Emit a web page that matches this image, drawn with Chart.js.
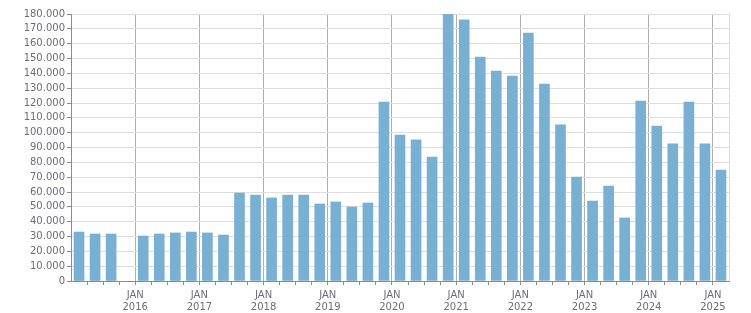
<!DOCTYPE html>
<html>
<head>
<meta charset="utf-8">
<script src="https://cdn.jsdelivr.net/npm/chart.js@4/dist/chart.umd.min.js"></script>
<style>
    html, body { margin: 0; padding: 0; background: #fff; }
    #wrap { width: 751px; height: 313px; }
</style>
</head>
<body>
<div id="wrap"><canvas id="quarterChart" width="751" height="313"></canvas></div>
<script>
// Quarterly series, Q1 2015 .. Q1 2025 (Q4 2015 has no bar)
const quarters = [
    '2015 Q1', '2015 Q2', '2015 Q3', '2015 Q4',
    '2016 Q1', '2016 Q2', '2016 Q3', '2016 Q4',
    '2017 Q1', '2017 Q2', '2017 Q3', '2017 Q4',
    '2018 Q1', '2018 Q2', '2018 Q3', '2018 Q4',
    '2019 Q1', '2019 Q2', '2019 Q3', '2019 Q4',
    '2020 Q1', '2020 Q2', '2020 Q3', '2020 Q4',
    '2021 Q1', '2021 Q2', '2021 Q3', '2021 Q4',
    '2022 Q1', '2022 Q2', '2022 Q3', '2022 Q4',
    '2023 Q1', '2023 Q2', '2023 Q3', '2023 Q4',
    '2024 Q1', '2024 Q2', '2024 Q3', '2024 Q4',
    '2025 Q1'
];
const values = [
    33000, 31700, 31700, null,
    30300, 31700, 32400, 33000,
    32400, 31000, 59300, 58000,
    56000, 58000, 58000, 51900,
    53300, 49900, 52600, 120700,
    98400, 95100, 83600, 181500,
    176000, 151000, 141600, 138200,
    167200, 132800, 105200, 70100,
    53900, 64000, 42500, 121300,
    104500, 92400, 120700, 92400,
    74800
];
const yearLabels = ['2016', '2017', '2018', '2019', '2020', '2021', '2022', '2023', '2024', '2025'];
const monthLabel = 'JAN';
const yMax = 180000;
const yStep = 10000;

const firstYear = 2015;
const textColor = '#6c6c7c';
const fontSpec = { family: '"DejaVu Sans", Verdana, sans-serif', size: 10 };

const points = values.map((v, i) => ({ x: i + 0.5, y: v }));

const yearLabelFor = (v) => {
    if (v <= 0 || v % 4 !== 0) return '';
    const yr = String(firstYear + v / 4);
    return yearLabels.includes(yr) ? [monthLabel, yr] : '';
};

const formatThousands = (v) => String(v).replace(/\B(?=(\d{3})+(?!\d))/g, '.');

new Chart(document.getElementById('quarterChart'), {
    type: 'bar',
    data: {
        datasets: [{
            label: 'Quarterly',
            data: points,
            backgroundColor: '#77b0d3',
            borderWidth: 0,
            barThickness: 10
        }]
    },
    options: {
        responsive: false,
        animation: false,
        layout: { padding: { left: 0, right: 22, top: 14, bottom: 0 } },
        plugins: {
            legend: { display: false },
            tooltip: { enabled: false }
        },
        scales: {
            x: {
                type: 'linear',
                min: 0,
                max: quarters.length,
                offset: false,
                afterBuildTicks: (scale) => {
                    const t = [];
                    for (let i = 0; i <= quarters.length; i++) t.push({ value: i });
                    scale.ticks = t;
                },
                afterFit: (scale) => { scale.height = 32; },
                grid: {
                    offset: false,
                    color: (ctx) => {
                        const v = ctx.tick ? ctx.tick.value : -1;
                        if (v === quarters.length) return '#dcdcdc';
                        if (v > 0 && v % 4 === 0) return '#adadad';
                        return 'rgba(0,0,0,0)';
                    },
                    tickColor: (ctx) => {
                        const v = ctx.tick ? ctx.tick.value : -1;
                        return (v > 0 && v < quarters.length) ? '#8c8c8c' : 'rgba(0,0,0,0)';
                    },
                    tickLength: 4
                },
                border: { color: '#8c8c8c' },
                ticks: {
                    autoSkip: false,
                    maxRotation: 0,
                    padding: 4,
                    color: textColor,
                    font: fontSpec,
                    callback: (v) => yearLabelFor(v)
                }
            },
            y: {
                min: 0,
                max: yMax,
                afterBuildTicks: (scale) => {
                    const t = [];
                    for (let v = 0; v <= yMax; v += yStep) t.push({ value: v });
                    scale.ticks = t;
                },
                afterFit: (scale) => { scale.width = 71; },
                grid: {
                    color: '#dedede',
                    tickColor: '#8c8c8c',
                    tickLength: 4
                },
                border: { color: '#8c8c8c' },
                ticks: {
                    autoSkip: false,
                    padding: 2,
                    color: textColor,
                    font: fontSpec,
                    callback: (v) => formatThousands(v)
                }
            }
        }
    }
});
</script>
</body>
</html>
